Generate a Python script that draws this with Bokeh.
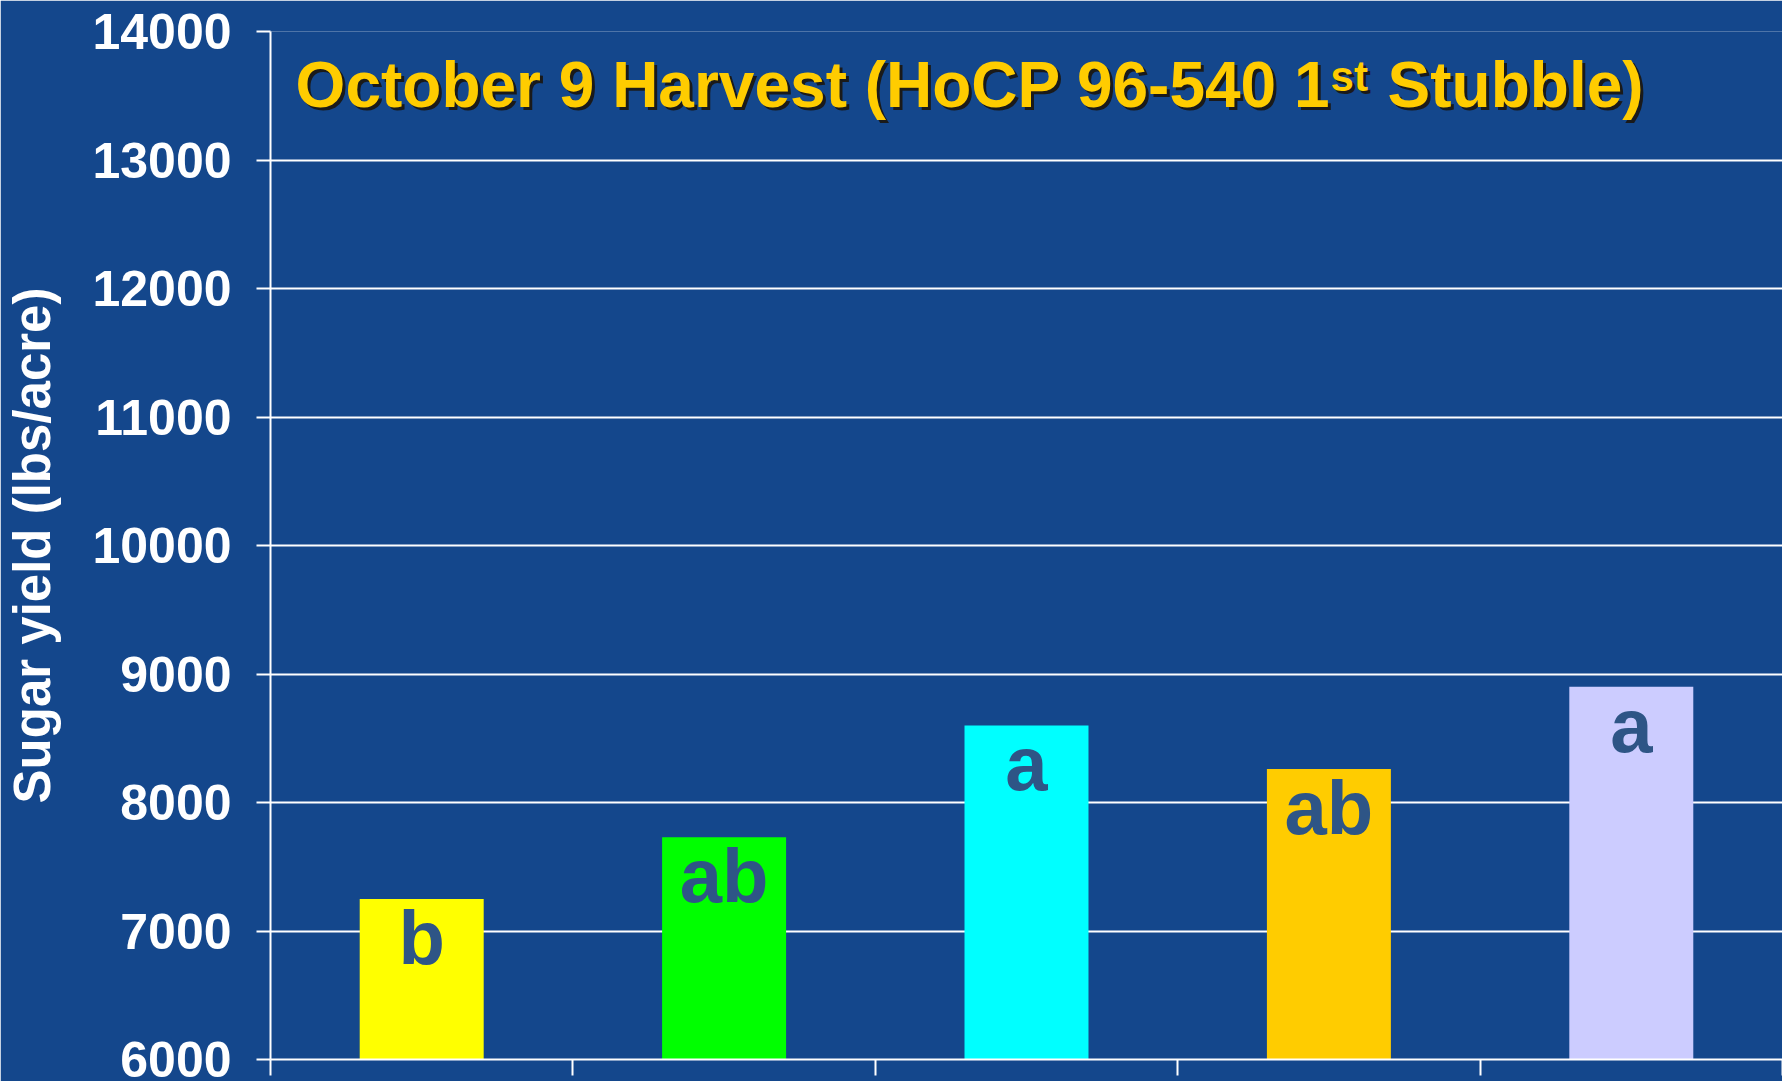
from bokeh.plotting import figure
from bokeh.models import ColumnDataSource, Label, FixedTicker, Range1d, CustomJSTickFormatter
from bokeh.embed import file_html
from bokeh.resources import INLINE
from bokeh.core.properties import value

# ---- data ----
groups = ["1", "2", "3", "4", "5"]
sugar_yield = [7250, 7730, 8600, 8260, 8900]
letters = ["b", "ab", "a", "ab", "a"]
bar_colors = ["#FFFF00", "#00FF00", "#00FFFF", "#FFCC00", "#CCCCFF"]
y_ticks = [6000, 7000, 8000, 9000, 10000, 11000, 12000, 13000, 14000]
title_main = "October 9 Harvest (HoCP 96-540 1"
title_sup = "st"
title_end = "Stubble)"
y_label = "Sugar yield (lbs/acre)"

xs = [i + 0.5 for i in range(len(groups))]
src = ColumnDataSource(dict(x=xs, top=sugar_yield, letter=letters, color=bar_colors))

BG = "#14478c"
FONT = "Liberation Sans"

p = figure(width=1782, height=1081, output_backend="svg", toolbar_location=None,
           x_range=Range1d(0, 5), y_range=Range1d(6000, 14000),
           min_border_left=270, min_border_right=0, min_border_top=31, min_border_bottom=22)
p.background_fill_color = BG
p.border_fill_color = BG
p.outline_line_color = None

p.vbar(x="x", top="top", bottom=6000, width=0.41, color="color", line_color=None, source=src)
p.text(x="x", y="top", text="letter", source=src, text_align="center", text_baseline="top",
       text_font=value(FONT), text_font_style="bold", text_font_size="76px", text_color="#2E5586",
       y_offset=-4)

# grid
p.xgrid.grid_line_color = None
p.ygrid.ticker = FixedTicker(ticks=y_ticks)
p.ygrid.grid_line_color = "white"
p.ygrid.grid_line_width = 2

# y axis
ya = p.yaxis[0]
ya.ticker = FixedTicker(ticks=y_ticks)
ya.axis_line_color = "white"
ya.axis_line_width = 2
ya.major_tick_line_color = "white"
ya.major_tick_line_width = 2
ya.major_tick_out = 14
ya.major_tick_in = 0
ya.minor_tick_line_color = None
ya.major_label_text_color = "white"
ya.major_label_text_font = FONT
ya.major_label_text_font_style = "bold"
ya.major_label_text_font_size = "50px"
ya.major_label_standoff = 25
ya.axis_label = y_label
ya.axis_label_text_color = "white"
ya.axis_label_text_font = FONT
ya.axis_label_text_font_style = "bold"
ya.axis_label_text_font_size = "51px"
ya.axis_label_standoff = 28

# x axis (ticks only, at category boundaries)
xa = p.xaxis[0]
xa.ticker = FixedTicker(ticks=[0, 1, 2, 3, 4, 5])
xa.formatter = CustomJSTickFormatter(code="return ''")
xa.axis_line_color = "white"
xa.axis_line_width = 2
xa.major_tick_line_color = "white"
xa.major_tick_line_width = 2
xa.major_tick_out = 16
xa.major_tick_in = 0
xa.minor_tick_line_color = None
xa.major_label_standoff = 0

# title with shadow
TS = "64px"
SUP = "42px"
tx, ty = 0.083, 13584
sup_dx = 1035
end_dx = 1092
for dx, dy, col in [(3, -3, "#1a1a1a"), (0, 0, "#FFCC00")]:
    p.add_layout(Label(x=tx, y=ty, x_offset=dx, y_offset=dy, text=title_main, text_font=FONT,
                       text_font_style="bold", text_font_size=TS, text_color=col,
                       text_baseline="alphabetic"))
    p.add_layout(Label(x=tx, y=ty, x_offset=sup_dx + dx, y_offset=8 + dy, text=title_sup, text_font=FONT,
                       text_font_style="bold", text_font_size=SUP, text_color=col,
                       text_baseline="alphabetic"))
    p.add_layout(Label(x=tx, y=ty, x_offset=end_dx + dx, y_offset=dy, text=title_end, text_font=FONT,
                       text_font_style="bold", text_font_size=TS, text_color=col,
                       text_baseline="alphabetic"))

open("out.html", "w").write(file_html(p, INLINE))
